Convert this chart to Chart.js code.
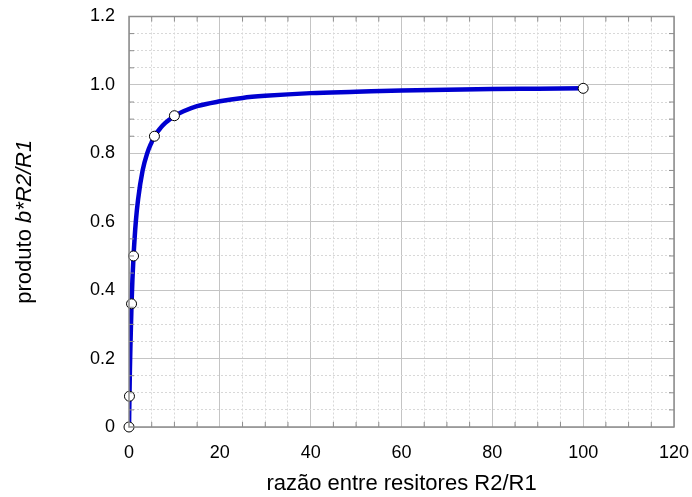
<!DOCTYPE html>
<html>
<head>
<meta charset="utf-8">
<script src="https://cdn.jsdelivr.net/npm/chart.js@4"></script>
<style>
  html, body { margin: 0; padding: 0; background: #fff; }
  #wrap { width: 692px; height: 497px; }
</style>
</head>
<body>
<div id="wrap"><canvas id="chart" width="692" height="497"></canvas></div>
<script>
// curve
const curveX = [0, 0.1, 0.2, 0.3, 0.5, 0.56, 0.75, 1, 1.5, 2, 3, 4, 5, 5.6, 7, 8, 10, 12, 15, 20, 25, 30, 40, 50, 60, 70, 80, 90, 100];
const curveY = [0, 0.09, 0.17, 0.23, 0.33, 0.36, 0.43, 0.5, 0.6, 0.665, 0.75, 0.8, 0.833, 0.85, 0.875, 0.889, 0.909, 0.923, 0.938, 0.952, 0.962, 0.968, 0.976, 0.98, 0.984, 0.986, 0.988, 0.989, 0.99];
// open circle markers
const markX = [0, 0.1, 0.56, 1, 5.6, 10, 100];
const markY = [0, 0.09, 0.36, 0.5, 0.85, 0.91, 0.99];

const xTitle = 'razão entre resitores R2/R1';
const yTitleParts = ['produto ', 'b*R2/R1'];

const font = '"Liberation Sans", Arial, sans-serif';

function isMajor(v, step) {
    const r = v / step;
    return Math.abs(r - Math.round(r)) < 1e-6;
}

// frame, inner tick marks and y title with italic part
const framePlugin = {
    id: 'frame',
    afterDraw(chart) {
        const c = chart.ctx, a = chart.chartArea;
        const sx = chart.scales.x, sy = chart.scales.y;
        c.save();
        c.strokeStyle = '#8c8c8c';
        c.lineWidth = 1;
        c.beginPath();
        sx.ticks.forEach(t => {
            const px = sx.getPixelForValue(t.value);
            const len = isMajor(t.value, 20) ? 0 : 5;
            c.moveTo(px, a.bottom); c.lineTo(px, a.bottom - len);
            c.moveTo(px, a.top); c.lineTo(px, a.top + len);
        });
        sy.ticks.forEach(t => {
            const py = sy.getPixelForValue(t.value);
            const len = isMajor(t.value, 0.2) ? 0 : 5;
            c.moveTo(a.left, py); c.lineTo(a.left + len, py);
            c.moveTo(a.right, py); c.lineTo(a.right - len, py);
        });
        c.stroke();
        c.lineWidth = 1.5;
        c.strokeRect(a.left, a.top, a.right - a.left, a.bottom - a.top);

        c.fillStyle = '#000';
        c.textBaseline = 'middle';
        c.font = '22px ' + font;
        const w1 = c.measureText(yTitleParts[0]).width;
        c.font = 'italic 22px ' + font;
        const w2 = c.measureText(yTitleParts[1]).width;
        c.translate(25, (a.top + a.bottom) / 2);
        c.rotate(-Math.PI / 2);
        const x0 = -(w1 + w2) / 2;
        c.textAlign = 'left';
        c.font = '22px ' + font;
        c.fillText(yTitleParts[0], x0, 0);
        c.font = 'italic 22px ' + font;
        c.fillText(yTitleParts[1], x0 + w1, 0);
        c.restore();
    }
};

document.addEventListener('DOMContentLoaded', function () {
    const ctx = document.getElementById('chart').getContext('2d');
    new Chart(ctx, {
        type: 'scatter',
        data: {
            datasets: [{
                type: 'line',
                data: curveX.map((x, i) => ({ x: x, y: curveY[i] })),
                borderColor: '#0000d0',
                borderWidth: 4.5,
                pointRadius: 0,
                cubicInterpolationMode: 'monotone',
                order: 2
            }, {
                data: markX.map((x, i) => ({ x: x, y: markY[i] })),
                backgroundColor: '#ffffff',
                borderColor: '#000000',
                borderWidth: 1,
                pointRadius: 5,
                clip: false,
                order: 1
            }]
        },
        options: {
            responsive: false,
            animation: false,
            layout: { padding: { top: 16.5, right: 18, left: 0, bottom: 0 } },
            plugins: { legend: { display: false }, tooltip: { enabled: false } },
            scales: {
                x: {
                    type: 'linear',
                    min: 0, max: 120,
                    afterFit: s => { s.height = 70; s.paddingLeft = 0; s.paddingRight = 0; },
                    ticks: {
                        stepSize: 5,
                        autoSkip: false,
                        maxRotation: 0,
                        padding: 15,
                        color: '#000',
                        font: { family: font, size: 18 },
                        callback: v => isMajor(v, 20) ? String(v) : ''
                    },
                    grid: {
                        drawTicks: false,
                        color: ctx => isMajor(ctx.tick.value, 20) ? '#c4c4c4' : '#d8d8d8',
                        lineWidth: 1
                    },
                    border: {
                        display: false,
                        dash: ctx => (ctx.tick && isMajor(ctx.tick.value, 20)) ? [] : [2, 2]
                    },
                    title: {
                        display: true,
                        text: xTitle,
                        color: '#000',
                        font: { family: font, size: 22 },
                        padding: { top: 4, bottom: 0 }
                    }
                },
                y: {
                    type: 'linear',
                    min: 0, max: 1.2,
                    afterFit: s => { s.width = 129; s.paddingTop = 0; s.paddingBottom = 0; },
                    ticks: {
                        stepSize: 0.05,
                        autoSkip: false,
                        padding: 14,
                        color: '#000',
                        font: { family: font, size: 18 },
                        callback: v => isMajor(v, 0.2) ? (Math.abs(v) < 1e-9 ? '0' : (Math.round(v * 10) / 10).toFixed(1)) : ''
                    },
                    grid: {
                        drawTicks: false,
                        color: ctx => isMajor(ctx.tick.value, 0.2) ? '#c4c4c4' : '#d8d8d8',
                        lineWidth: 1
                    },
                    border: {
                        display: false,
                        dash: ctx => (ctx.tick && isMajor(ctx.tick.value, 0.2)) ? [] : [2, 2]
                    }
                }
            }
        },
        plugins: [framePlugin]
    });
});
</script>
</body>
</html>
